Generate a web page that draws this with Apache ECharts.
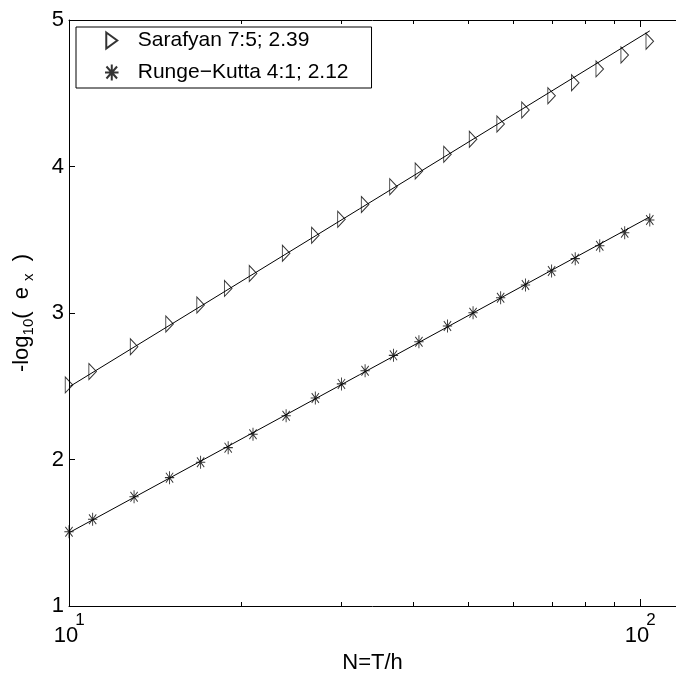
<!DOCTYPE html>
<html>
<head>
<meta charset="utf-8">
<title>Convergence: Sarafyan vs Runge–Kutta</title>
<script src="https://cdn.jsdelivr.net/npm/echarts@6/dist/echarts.min.js"></script>
<style>
  html, body { margin: 0; padding: 0; background: #fff; }
  #chart { width: 676px; height: 675px; }
</style>
</head>
<body>
<div id="chart"></div>
<script>
// Number of steps N = T/h
const stepCounts = [10, 11, 13, 15, 17, 19, 21, 24, 27, 30, 33, 37, 41, 46, 51, 57, 63, 70, 77, 85, 94, 104];

// -log10 of the error in x for each method
const sarafyanErr = [2.509, 2.600, 2.770, 2.925, 3.055, 3.168, 3.270, 3.408, 3.530, 3.640, 3.740,
                     3.862, 3.969, 4.083, 4.186, 4.290, 4.386, 4.483, 4.572, 4.666, 4.761, 4.855];
const rungeKuttaErr = [1.507, 1.592, 1.746, 1.876, 1.981, 2.081, 2.172, 2.299, 2.420, 2.516, 2.606,
                       2.711, 2.804, 2.911, 3.002, 3.104, 3.191, 3.287, 3.371, 3.459, 3.548, 3.635];

// Least-squares fit lines: value at N = 10 and slope (order) quoted in the legend
const fitRange = [10, 104];
const sarafyanFit = { start: 2.495, slope: 2.39 };
const rungeKuttaFit = { start: 1.500, slope: 2.12 };

const seriesNames = ['Sarafyan 7:5; 2.39', 'Runge\u2212Kutta 4:1; 2.12'];

// Axis ranges and tick values
const xRange = [10, 115.6];
const yRange = [1, 5];
const minorTickValues = [20, 30, 40, 50, 60, 70, 80, 90];

const FONT = '"Liberation Sans", Arial, Helvetica, sans-serif';

function pairs(xs, ys) { return xs.map((x, i) => [x, ys[i]]); }
function fitLine(fit) {
  const span = Math.log10(fitRange[1] / fitRange[0]);
  return [[fitRange[0], fit.start], [fitRange[1], fit.start + fit.slope * span]];
}
function isDecade(v) {
  const e = Math.log10(v);
  return Math.abs(e - Math.round(e)) < 1e-6;
}

const trianglePath = 'path://M0,0L11,8L0,16Z';
const asteriskPath = 'path://M5.5,0L5.5,13M0,6.5L11,6.5M1.2,1.6L9.8,11.4M9.8,1.6L1.2,11.4';

const chart = echarts.init(document.getElementById('chart'), null, { renderer: 'canvas' });

const option = {
  backgroundColor: '#ffffff',
  animation: false,
  grid: { left: 69, right: 0, top: 20, bottom: 69, containLabel: false, outerBoundsMode: 'none' },
  legend: {
    orient: 'vertical',
    left: 76,
    top: 27,
    data: seriesNames,
    selectedMode: false,
    backgroundColor: '#ffffff',
    borderColor: '#000000',
    borderWidth: 1,
    borderRadius: 0,
    padding: [3, 23, 5, 28],
    itemWidth: 42,
    itemHeight: 16,
    itemGap: 11,
    textStyle: { fontFamily: FONT, fontSize: 21, color: '#000' }
  },
  xAxis: [
    {
      type: 'log', logBase: 10, min: xRange[0], max: xRange[1], position: 'bottom',
      name: 'N=T/h', nameLocation: 'middle', nameGap: 42,
      nameTextStyle: { fontFamily: FONT, fontSize: 22, color: '#000' },
      axisLine: { show: true, lineStyle: { color: '#000', width: 1 } },
      axisTick: { show: true, inside: true, length: 7, lineStyle: { color: '#000', width: 1 } },
      splitLine: { show: false },
      minorTick: { show: false },
      axisLabel: {
        show: true, margin: 19, color: '#000', fontFamily: FONT, fontSize: 22,
        padding: [0, 6, 0, 0],
        formatter: v => (isDecade(v) ? '10' : '')
      }
    },
    {
      // exponents of the decade labels
      type: 'log', logBase: 10, min: xRange[0], max: xRange[1], position: 'bottom',
      axisLine: { show: false }, axisTick: { show: false }, splitLine: { show: false },
      axisLabel: {
        show: true, margin: 6, color: '#000', fontFamily: FONT, fontSize: 17,
        padding: [0, 0, 0, 22],
        formatter: v => (isDecade(v) ? String(Math.round(Math.log10(v))) : '')
      }
    },
    {
      type: 'log', logBase: 10, min: xRange[0], max: xRange[1], position: 'top',
      axisLine: { show: true, lineStyle: { color: '#000', width: 1 } },
      axisTick: { show: true, inside: true, length: 7, lineStyle: { color: '#000', width: 1 } },
      splitLine: { show: false },
      axisLabel: { show: false }
    }
  ],
  yAxis: [
    {
      type: 'value', min: yRange[0], max: yRange[1], interval: 1, position: 'left',
      name: '{b|-log}{sub|10}{b|(  e}{xs|x}{b|  )}',
      nameLocation: 'middle', nameRotate: 90, nameGap: 36,
      nameTextStyle: {
        fontFamily: FONT, fontSize: 22, color: '#000',
        rich: {
          b: { fontFamily: FONT, fontSize: 22, lineHeight: 22, color: '#000', verticalAlign: 'top' },
          sub: { fontFamily: FONT, fontSize: 15, lineHeight: 15, color: '#000', padding: [10, 0, 0, 0], verticalAlign: 'top' },
          xs: { fontFamily: FONT, fontSize: 15, lineHeight: 15, color: '#000', padding: [10, 0, 0, 6], verticalAlign: 'top' }
        }
      },
      axisLine: { show: true, lineStyle: { color: '#000', width: 1 } },
      axisTick: { show: true, inside: true, length: 6, lineStyle: { color: '#000', width: 1 } },
      splitLine: { show: false },
      axisLabel: { show: true, margin: 5, color: '#000', fontFamily: FONT, fontSize: 22 }
    }
  ],
  series: [
    {
      name: seriesNames[0], type: 'scatter', xAxisIndex: 0, yAxisIndex: 0,
      data: pairs(stepCounts, sarafyanErr),
      symbol: trianglePath, symbolSize: [11, 16], symbolKeepAspect: true,
      itemStyle: { color: 'rgba(255,255,255,0)', borderColor: '#000', borderWidth: 1 },
      z: 3
    },
    {
      name: seriesNames[1], type: 'scatter', xAxisIndex: 0, yAxisIndex: 0,
      data: pairs(stepCounts, rungeKuttaErr),
      symbol: asteriskPath, symbolSize: [11, 13], symbolKeepAspect: true,
      itemStyle: { color: 'rgba(255,255,255,0)', borderColor: '#000', borderWidth: 1 },
      z: 3
    },
    {
      name: 'Sarafyan fit', type: 'line', xAxisIndex: 0, yAxisIndex: 0,
      data: fitLine(sarafyanFit), showSymbol: false, symbol: 'none', silent: true,
      lineStyle: { color: '#000', width: 1 }, z: 2
    },
    {
      name: 'Runge-Kutta fit', type: 'line', xAxisIndex: 0, yAxisIndex: 0,
      data: fitLine(rungeKuttaFit), showSymbol: false, symbol: 'none', silent: true,
      lineStyle: { color: '#000', width: 1 }, z: 2
    },
    {
      // minor ticks of the log axis, drawn inward on the bottom and top edges
      name: 'minor ticks', type: 'custom', xAxisIndex: 0, yAxisIndex: 0, silent: true, clip: false,
      data: minorTickValues.map(v => [v, yRange[0]]),
      renderItem: function (params, api) {
        const b = api.coord([api.value(0), yRange[0]]);
        const t = api.coord([api.value(0), yRange[1]]);
        const x = Math.round(b[0]) + 0.5;
        const style = { stroke: '#000', lineWidth: 1 };
        return {
          type: 'group',
          children: [
            { type: 'line', shape: { x1: x, y1: b[1], x2: x, y2: b[1] - 4 }, style },
            { type: 'line', shape: { x1: x, y1: t[1], x2: x, y2: t[1] + 4 }, style }
          ]
        };
      },
      z: 4
    }
  ]
};

chart.setOption(option);
</script>
</body>
</html>
